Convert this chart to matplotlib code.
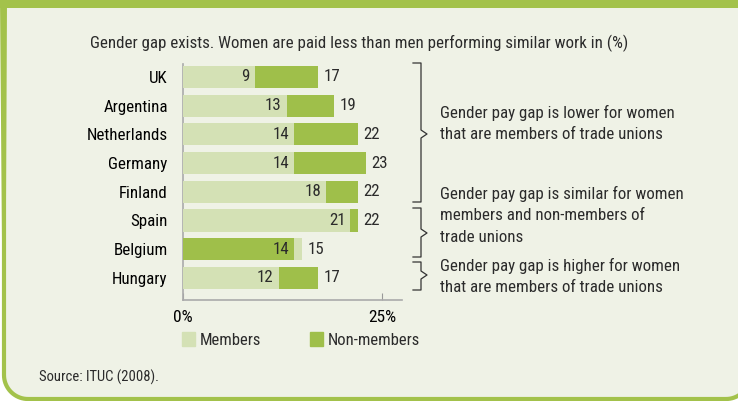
import numpy as np
import matplotlib
matplotlib.use("Agg")
import matplotlib.pyplot as plt
import matplotlib.patches as mpatches

countries = ["UK", "Argentina", "Netherlands", "Germany", "Finland", "Spain", "Belgium", "Hungary"]
members = [9, 13, 14, 14, 18, 21, 15, 12]
non_members = [17, 19, 22, 23, 22, 22, 14, 17]
x_ticks = [0, 25]
x_tick_labels = ["0%", "25%"]

title = "Gender gap exists. Women are paid less than men performing similar work in (%)"
source = "Source: ITUC (2008)."
notes = [
    (["Gender pay gap is lower for women", "that are members of trade unions"], 113),
    (["Gender pay gap is similar for women", "members and non-members of", "trade unions"], 194),
    (["Gender pay gap is higher for women", "that are members of trade unions"], 266),
]

FRAME = "#a3c24b"
BG = "#eff2e6"
DARK = "#9fbf4a"
LIGHT = "#d4e1b5"
TXT = "#2b2b2b"
FS = 12.2

plt.rcParams["font.family"] = ["Roboto Condensed", "Fira Sans Condensed",
                               "Sofia Sans Condensed", "DejaVu Sans"]
plt.rcParams["text.color"] = TXT

W, H = 738, 401
fig = plt.figure(figsize=(W / 100, H / 100), dpi=100)
fig.patch.set_facecolor("white")

# background panel in pixel units: frame, braces, notes, title, source
bg = fig.add_axes([0, 0, 1, 1], zorder=-5)
bg.set_xlim(0, W)
bg.set_ylim(H, 0)
bg.axis("off")

# frame outline: left side, rounded bottom corners, open at the top
r = 24
left, bottom, right = 4, 399, 750
t = np.linspace(0, np.pi / 2, 20)
fx = np.concatenate([[right, left], left + r - r * np.cos(t),
                     right - r + r * np.sin(t), [right]])
fy = np.concatenate([[-5, -5], bottom - r + r * np.sin(t),
                     bottom - r + r * np.cos(t), [-5]])
bg.fill(fx, fy, facecolor=BG, edgecolor=FRAME, linewidth=3, clip_on=False)
bg.add_patch(mpatches.Rectangle((0, 0), W, 8, facecolor=FRAME, edgecolor="none"))
bg.add_patch(mpatches.Polygon([(0, 0), (7, 0), (5.5, 300), (2.5, 300)],
                              facecolor=FRAME, edgecolor="none"))

bg.text(90, 43, title, fontsize=FS, va="center", ha="left")
bg.text(39, 377, source, fontsize=10.5, va="center", ha="left")


def brace(y0, y1, ym, x=421, hook=8, tip=6):
    xs = [x - hook, x, x, x + tip, x, x, x - hook]
    ys = [y0, y0, ym - 4, ym, ym + 4, y1, y1]
    bg.plot(xs, ys, color="#333333", lw=0.9)


brace(63, 202, 134)
brace(208, 257, 233)
brace(262, 290, 275)

for lines, top in notes:
    for k, line in enumerate(lines):
        bg.text(440, top + k * 21.5, line, fontsize=FS, va="center", ha="left")

# bar chart: the longer bar of each pair sits behind the shorter one
ax = fig.add_axes([183 / W, 1 - 300 / H, 219 / W, 236 / H])
ax.set_facecolor("none")

y = np.arange(len(countries))
h = 0.77
for i in range(len(countries)):
    m, n = members[i], non_members[i]
    if m <= n:
        big, small, cbig, csmall = n, m, DARK, LIGHT
    else:
        big, small, cbig, csmall = m, n, LIGHT, DARK
    ax.barh(y[i], big, height=h, color=cbig, zorder=2)
    ax.barh(y[i], small, height=h, color=csmall, zorder=3)
    ax.annotate(str(small), (small, y[i]), xytext=(-3.5, 0), textcoords="offset points",
                ha="right", va="center", fontsize=FS, color=TXT, zorder=4)
    ax.annotate(str(big), (big, y[i]), xytext=(3.5, 0), textcoords="offset points",
                ha="left", va="center", fontsize=FS, color=TXT, zorder=4)

ax.set_xlim(0, 27.5)
ax.set_ylim(len(countries) - 1 + 0.77, -0.45)
ax.set_yticks(y)
ax.set_yticklabels(countries, fontsize=FS)
ax.set_xticks(x_ticks)
ax.set_xticklabels(x_tick_labels, fontsize=12.5)
ax.tick_params(axis="y", length=0, pad=11)
ax.tick_params(axis="x", direction="in", length=5, color="#999999", pad=7)
for s in ["top", "right"]:
    ax.spines[s].set_visible(False)
for s in ["left", "bottom"]:
    ax.spines[s].set_color("#aaaaaa")
    ax.spines[s].set_linewidth(1.2)

handles = [mpatches.Patch(color=LIGHT, label="Members"),
           mpatches.Patch(color=DARK, label="Non-members")]
fig.legend(handles=handles, ncol=2, loc="center left",
           bbox_to_anchor=(175 / W, 1 - 340 / H), frameon=False, fontsize=12,
           handlelength=0.8, handleheight=0.85, handletextpad=0.3,
           columnspacing=2.9, borderaxespad=0)

fig.savefig("out.png", dpi=100, facecolor=fig.get_facecolor())
